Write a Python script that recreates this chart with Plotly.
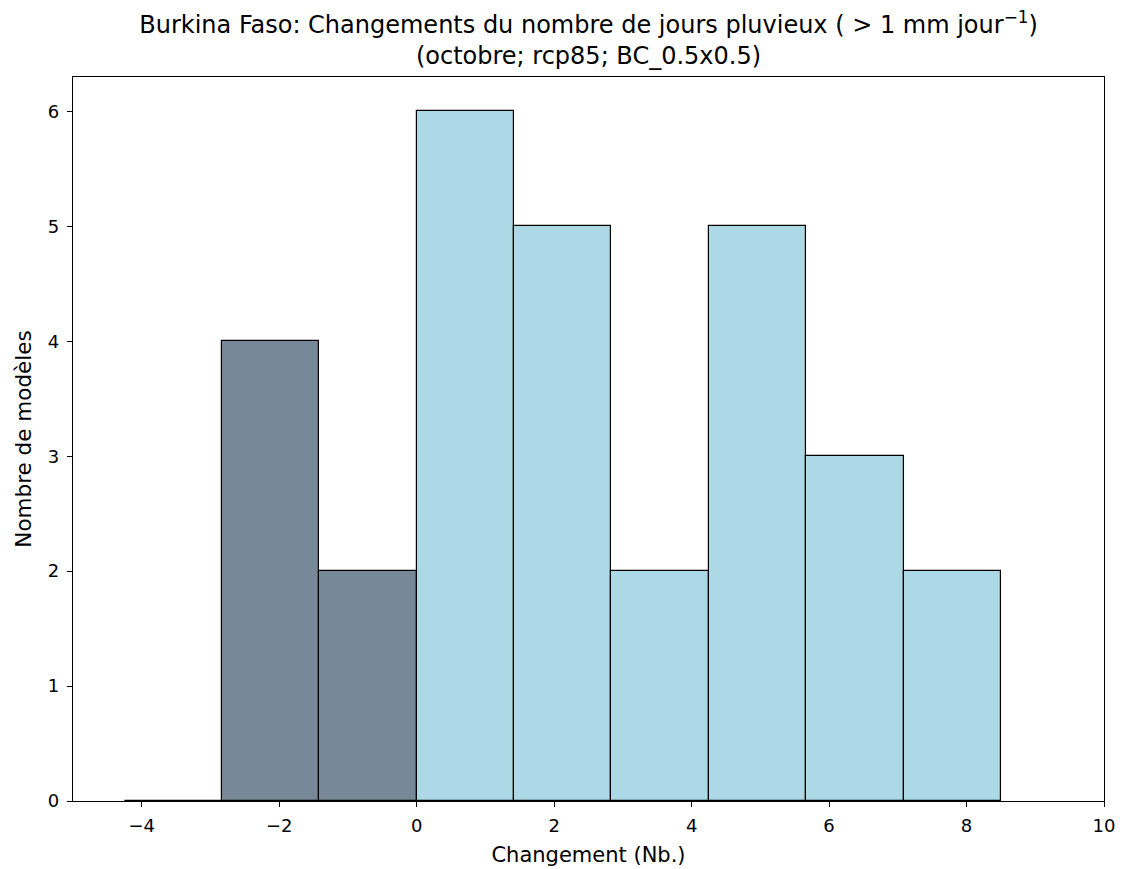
import plotly.graph_objects as go

# Data
bin_edges = [-4.25, -2.8333, -1.4167, 0.0, 1.4167, 2.8333, 4.25, 5.6667, 7.0833, 8.5]
counts = [0, 4, 2, 6, 5, 2, 5, 3, 2]
x_ticks = [-4, -2, 0, 2, 4, 6, 8, 10]
y_ticks = [0, 1, 2, 3, 4, 5, 6]

neg_color = "#778899"   # slategray
pos_color = "#ADD8E6"   # lightblue

centers = [(bin_edges[i] + bin_edges[i + 1]) / 2 for i in range(len(counts))]
widths = [bin_edges[i + 1] - bin_edges[i] for i in range(len(counts))]
colors = [neg_color if bin_edges[i + 1] <= 0 else pos_color for i in range(len(counts))]

fig = go.Figure()
fig.add_trace(go.Bar(
    x=centers, y=counts, width=widths,
    marker=dict(color=colors, line=dict(color="black", width=1.2)),
    hoverinfo="x+y",
))

font = "DejaVu Sans"
fig.update_layout(
    width=1122, height=869,
    paper_bgcolor="white", plot_bgcolor="white",
    margin=dict(l=73, r=18, t=77, b=68, autoexpand=False),
    showlegend=False,
    bargap=0,
    font=dict(family=font, size=18, color="black"),
    title=dict(
        text="Burkina Faso: Changements du nombre de jours pluvieux ( > 1 mm jour<sup>−1</sup>)<br>(octobre; rcp85; BC_0.5x0.5)",
        x=0.5, xref="paper", xanchor="center",
        y=1 - 33 / 869, yref="container", yanchor="middle",
        font=dict(family=font, size=24, color="black"),
    ),
    xaxis=dict(
        range=[-5, 10], tickvals=x_ticks, ticktext=[str(v).replace("-", "−") for v in x_ticks],
        showgrid=False, zeroline=False,
        showline=True, linecolor="black", linewidth=1.2, mirror=True,
        ticks="outside", ticklen=5, tickcolor="black", tickwidth=1.2,
        tickfont=dict(family=font, size=18), ticklabelstandoff=3,
        title=dict(text="Changement (Nb.)", font=dict(family=font, size=21), standoff=12),
    ),
    yaxis=dict(
        range=[0, 6.3], tickvals=y_ticks,
        showgrid=False, zeroline=False,
        showline=True, linecolor="black", linewidth=1.2, mirror=True,
        ticks="outside", ticklen=5, tickcolor="black", tickwidth=1.2,
        tickfont=dict(family=font, size=18), ticklabelstandoff=4,
        title=dict(text="Nombre de modèles", font=dict(family=font, size=21.5), standoff=10),
    ),
)

fig.write_html("out.html", config={"displayModeBar": False},
               post_script="document.body.style.margin='0';")
